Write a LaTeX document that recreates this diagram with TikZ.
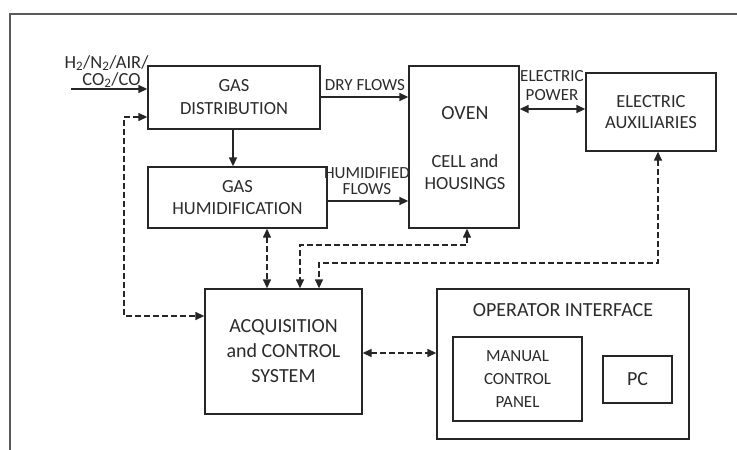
\documentclass[tikz,border=0pt]{standalone}
\usepackage{fontspec}
\setmainfont{Carlito}
\usetikzlibrary{arrows.meta}
\definecolor{ln}{HTML}{262626}
\definecolor{tx}{HTML}{2B2B2B}
\definecolor{fr}{HTML}{5A5A5A}
\begin{document}
\begin{tikzpicture}[x=1pt,y=-1pt,
  box/.style={draw=ln,line width=1.3pt,inner sep=0pt,text=tx,align=center},
  lbl/.style={text=tx,inner sep=0pt,align=center,font=\fontsize{17}{16.5}\selectfont},
  txt/.style={text=tx,inner sep=0pt,align=center},
  arr/.style={draw=ln,line width=1.6pt,-{Triangle[length=9pt,width=8pt]}},
  darr/.style={draw=ln,line width=1.6pt,{Triangle[length=9pt,width=8pt]}-{Triangle[length=9pt,width=8pt]}},
  dsh/.style={line width=1.3pt,dash pattern=on 5.5pt off 3.5pt}
]
\useasboundingbox (0,0) rectangle (737,450);
\draw[fr,line width=1.5pt] (10,450) -- (10,14) -- (737,14);

% boxes
\node[box,minimum width=172,minimum height=63,font=\fontsize{18.5}{23}\selectfont] (gd) at (234,97.5) {GAS\\DISTRIBUTION};
\node[box,minimum width=179,minimum height=61,font=\fontsize{18.5}{22}\selectfont] (hum) at (237.5,197.5) {GAS\\HUMIDIFICATION};
\node[box,minimum width=110,minimum height=162] (oven) at (464,147) {};
\node[txt,font=\fontsize{20}{24}\selectfont] (ovt) at (465,113) {OVEN};
\node[txt,font=\fontsize{18.5}{22}\selectfont] (cell) at (465,172) {CELL and\\HOUSINGS};
\node[box,minimum width=130,minimum height=78,font=\fontsize{18.5}{21}\selectfont] (aux) at (651,112) {ELECTRIC\\AUXILIARIES};
\node[box,minimum width=157,minimum height=125,font=\fontsize{20}{25}\selectfont] (acq) at (283.5,351.5) {ACQUISITION\\and CONTROL\\SYSTEM};
\node[box,minimum width=252,minimum height=150] (op) at (563,364) {};
\node[txt,font=\fontsize{20}{24}\selectfont] (opt) at (563,310) {OPERATOR INTERFACE};
\node[box,minimum width=129,minimum height=84,font=\fontsize{17}{23}\selectfont] (man) at (517.5,379) {MANUAL\\CONTROL\\PANEL};
\node[box,minimum width=69,minimum height=47,font=\fontsize{20}{24}\selectfont] (pc) at (637.5,379.5) {PC};

% labels
\node[txt,font=\fontsize{18.5}{20}\selectfont] (in1) at (106.5,63) {H\textsubscript{2}/N\textsubscript{2}/AIR/};
\node[txt,font=\fontsize{18.5}{20}\selectfont] (in2) at (111.5,80) {CO\textsubscript{2}/CO};
\node[lbl] (dryl) at (365,85) {DRY FLOWS};
\node[lbl] (huml) at (367,181) {HUMIDIFIED\\FLOWS};
\node[lbl,font=\fontsize{17}{19}\selectfont] (pwl) at (552,85.5) {ELECTRIC\\POWER};

% connectors
\coordinate (inp) at (71,89);
\draw[arr] (inp) -- (inp -| gd.west);
\coordinate (gh) at (233,0);
\draw[arr] (gh |- gd.south) -- (gh |- hum.north);
\coordinate (dry) at (0,97);
\draw[arr] (dry -| gd.east) -- (dry -| oven.west);
\coordinate (hf) at (0,201);
\draw[arr] (hf -| hum.east) -- (hf -| oven.west);
\coordinate (pw) at (0,109);
\draw[darr] (pw -| oven.east) -- (pw -| aux.west);

\coordinate (lt) at (124,117);
\coordinate (lb) at (124,316);
\draw[darr,dsh] (lt -| gd.west) -- (lt) -- (lb) -- (lb -| acq.west);
\coordinate (ha) at (267,0);
\draw[darr,dsh] (ha |- hum.south) -- (ha |- acq.north);
\coordinate (oa1) at (467,245);
\coordinate (oa2) at (300,245);
\draw[darr,dsh] (oa1 |- oven.south) -- (oa1) -- (oa2) -- (oa2 |- acq.north);
\coordinate (xa1) at (658,263);
\coordinate (xa2) at (319,263);
\draw[darr,dsh] (xa1 |- aux.south) -- (xa1) -- (xa2) -- (xa2 |- acq.north);
\coordinate (ao) at (0,353);
\draw[darr,dsh] (ao -| acq.east) -- (ao -| op.west);
\end{tikzpicture}
\end{document}
